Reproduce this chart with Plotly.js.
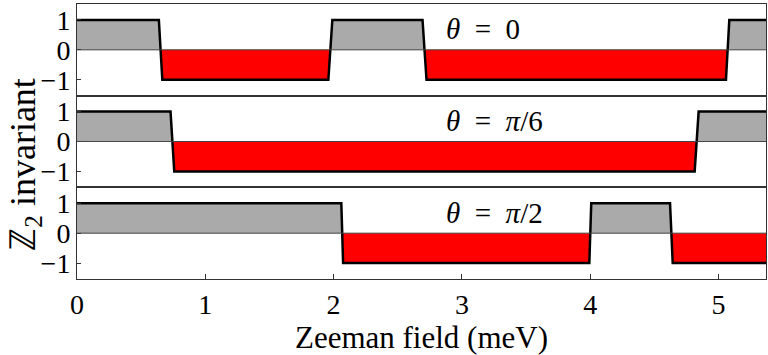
<!DOCTYPE html>
<html>
<head>
<meta charset="utf-8">
<script src="https://cdn.plot.ly/plotly-3.0.1.min.js"></script>
<style>
  html, body { margin: 0; padding: 0; background: #fff; }
  #myDiv { width: 768px; height: 355px; }
</style>
</head>
<body>
<div id="myDiv"></div>
<script>
// Z2 invariant vs Zeeman field (breakpoints in meV)
var field0 = [0, 0.638, 0.665, 1.959, 1.990, 2.693, 2.724, 5.058, 5.084, 5.4];
var inv0   = [1, 1, -1, -1, 1, 1, -1, -1, 1, 1];

var field6 = [0, 0.729, 0.758, 4.814, 4.845, 5.4];
var inv6   = [1, 1, -1, -1, 1, 1];

var field2 = [0, 2.060, 2.074, 3.993, 4.008, 4.622, 4.643, 5.4];
var inv2   = [1, 1, -1, -1, 1, 1, -1, -1];

// en spaces around "=" to get the math spacing
var panelLabels = ['<i>θ</i>\u2002=\u20020', '<i>θ</i>\u2002=\u2002<i>π</i>/6', '<i>θ</i>\u2002=\u2002<i>π</i>/2'];
var xTicks = [0, 1, 2, 3, 4, 5];
var yTicks = [-1, 0, 1];

var panels = [[field0, inv0], [field6, inv6], [field2, inv2]];

// split a piecewise-linear curve at its zero crossings
function withCrossings(xs, ys) {
  var ox = [], oy = [];
  for (var i = 0; i < xs.length; i++) {
    if (i > 0 && ys[i - 1] * ys[i] < 0) {
      var t = ys[i - 1] / (ys[i - 1] - ys[i]);
      ox.push(xs[i - 1] + t * (xs[i] - xs[i - 1]));
      oy.push(0);
    }
    ox.push(xs[i]);
    oy.push(ys[i]);
  }
  return {x: ox, y: oy};
}

var data = [];
var serif = "'Liberation Serif', 'Times New Roman', serif";

panels.forEach(function (p, k) {
  var n = k === 0 ? '' : String(k + 1);
  var c = withCrossings(p[0], p[1]);
  data.push({
    x: c.x, y: c.y.map(function (v) { return Math.max(v, 0); }),
    xaxis: 'x' + n, yaxis: 'y' + n,
    mode: 'lines', fill: 'tozeroy', fillcolor: '#aaaaaa',
    line: {width: 0}, hoverinfo: 'skip'
  });
  data.push({
    x: c.x, y: c.y.map(function (v) { return Math.min(v, 0); }),
    xaxis: 'x' + n, yaxis: 'y' + n,
    mode: 'lines', fill: 'tozeroy', fillcolor: '#ff0000',
    line: {width: 0}, hoverinfo: 'skip'
  });
  data.push({
    x: p[0], y: p[1],
    xaxis: 'x' + n, yaxis: 'y' + n,
    mode: 'lines', line: {color: '#000', width: 2.5}
  });
});

var layout = {
  width: 768, height: 355,
  margin: {l: 77, r: 2, t: 4, b: 76},
  showlegend: false,
  paper_bgcolor: '#fff',
  plot_bgcolor: '#fff',
  font: {family: serif, size: 28, color: '#000'},
  annotations: [],
  shapes: []
};

// panel domains, top to bottom
var doms = [[2 / 3, 1], [1 / 3, 2 / 3], [0, 1 / 3]];

for (var k = 0; k < 3; k++) {
  var n = k === 0 ? '' : String(k + 1);
  var bottom = k === 2;
  var xa = {
    range: [0, 5.37],
    anchor: 'y' + n,
    showline: true, mirror: true, linecolor: '#333', linewidth: 1,
    showgrid: false, zeroline: false,
    tickvals: bottom ? xTicks : [],
    ticks: bottom ? 'inside' : '', ticklen: 5, tickcolor: '#333',
    showticklabels: bottom,
    tickfont: {family: serif, size: 28}
  };
  if (bottom) xa.title = {text: 'Zeeman field (meV)', font: {family: serif, size: 31}, standoff: 0};
  layout['xaxis' + n] = xa;
  layout['yaxis' + n] = {
    domain: doms[k],
    range: [-1.53, 1.53],
    anchor: 'x' + n,
    showline: true, mirror: true, linecolor: '#333', linewidth: 1,
    showgrid: false, zeroline: false,
    tickvals: yTicks, ticktext: ['−1', '0', '1'],
    ticks: 'inside', ticklen: 4, tickcolor: '#333',
    tickfont: {family: serif, size: 28}
  };
  layout.shapes.push({
    type: 'line', xref: 'x' + n + ' domain', yref: 'y' + n,
    x0: 0, x1: 1, y0: 0, y1: 0,
    line: {color: '#444', width: 1}, layer: 'above'
  });
  layout.annotations.push({
    text: panelLabels[k],
    xref: 'x' + n, yref: 'y' + n,
    x: 2.86, y: 0.68,
    xanchor: 'left', yanchor: 'middle',
    showarrow: false,
    font: {family: serif, size: 29, color: '#000'}
  });
}

layout.annotations.push({
  text: 'ℤ<sub>2</sub> invariant',
  xref: 'paper', yref: 'paper',
  x: -0.076, y: 0.418,
  textangle: -90,
  xanchor: 'center', yanchor: 'middle',
  showarrow: false,
  font: {family: serif, size: 36, color: '#000'}
});

Plotly.newPlot('myDiv', data, layout, {staticPlot: true});
</script>
</body>
</html>
